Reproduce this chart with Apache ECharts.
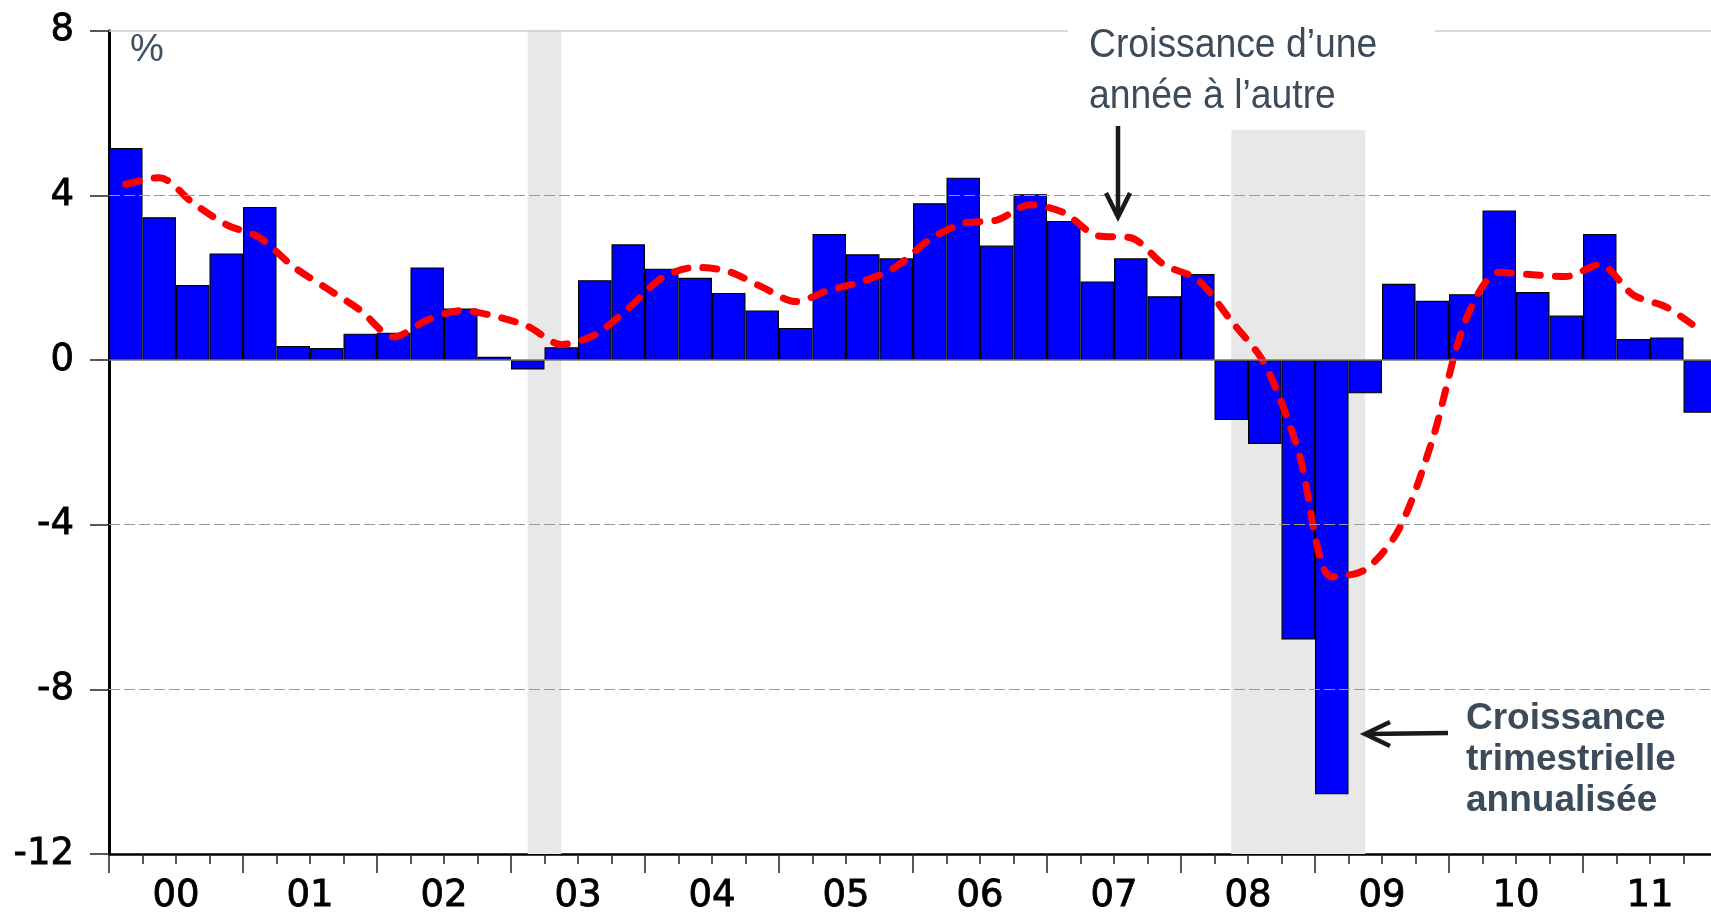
<!DOCTYPE html>
<html>
<head>
<meta charset="utf-8">
<script src="https://cdn.jsdelivr.net/npm/echarts@6/dist/echarts.min.js"></script>
<style>
  html, body { margin: 0; padding: 0; background: #ffffff; }
  #chart { width: 1711px; height: 916px; }
</style>
</head>
<body>
<div id="chart"></div>
<script>
// ---- data ----
const years = ['00','01','02','03','04','05','06','07','08','09','10','11'];
const quarterNames = ['T1','T2','T3','T4'];
// quarterly annualised growth (bars), 2000T1 .. 2011T4
const quarterlyGrowth = [
  5.15, 3.47, 1.82, 2.59,
  3.72, 0.34, 0.29, 0.64,
  0.66, 2.25, 1.25, 0.08,
  -0.23, 0.31, 1.94, 2.81,
  2.22, 2.00, 1.63, 1.20,
  0.78, 3.06, 2.57, 2.47,
  3.81, 4.43, 2.78, 4.03,
  3.38, 1.91, 2.47, 1.55,
  2.09, -1.46, -2.04, -6.79,
  -10.55, -0.81, 1.85, 1.44,
  1.60, 3.63, 1.65, 1.08,
  3.06, 0.51, 0.55, -1.28
];
// year-over-year growth (red dashed line)
const yoyGrowth = [
  4.27, 4.43, 3.82, 3.29,
  2.97, 2.27, 1.74, 1.21,
  0.56, 0.97, 1.20, 1.07,
  0.82, 0.38, 0.61, 1.25,
  1.99, 2.25, 2.15, 1.77,
  1.42, 1.70, 1.91, 2.27,
  2.93, 3.32, 3.40, 3.77,
  3.58, 3.02, 2.97, 2.31,
  1.95, 0.95, -0.10, -2.20,
  -5.27, -5.09, -4.12, -1.95,
  0.97, 2.13, 2.07, 2.03,
  2.32, 1.58, 1.28, 0.72
];
const yTicks = { min: -12, max: 8, interval: 4 };
const dashedGridValues = [4, -4, -8];
const recessions = [['03T1', '03T2'], ['08T2', '09T2']];
const annotationYoY = ['Croissance d\u2019une', 'ann\u00e9e \u00e0 l\u2019autre'];
const annotationQ = ['Croissance', 'trimestrielle', 'annualis\u00e9e'];
const unitLabel = '%';

// categories built from year labels
const categories = [];
years.forEach(y => quarterNames.forEach(q => categories.push(y + q)));

const chart = echarts.init(document.getElementById('chart'), null, { renderer: 'canvas' });

const textColor = '#3b4b5a';
const tickFont = 'DejaVu Sans';

const option = {
  animation: false,
  backgroundColor: '#ffffff',
  grid: { left: 109, top: 30.7, width: 1608, height: 823.3, outerBoundsMode: 'none', containLabel: false },
  xAxis: [
    {
      type: 'category',
      data: categories,
      boundaryGap: true,
      axisLine: { show: true, onZero: false, lineStyle: { color: '#000', width: 2.5 } },
      axisTick: { show: true, interval: 0, length: 10, lineStyle: { color: '#222', width: 1.5 } },
      axisLabel: { show: false },
      splitLine: { show: false }
    },
    {
      type: 'category',
      data: years,
      position: 'bottom',
      boundaryGap: true,
      axisLine: { show: false, onZero: false },
      axisTick: { show: true, interval: 0, length: 19, lineStyle: { color: '#222', width: 1.5 } },
      axisLabel: { show: true, interval: 0, margin: 24, color: '#000', fontSize: 37, fontFamily: tickFont,
        textBorderColor: '#000', textBorderWidth: 0.8 },
      splitLine: { show: false }
    }
  ],
  yAxis: {
    type: 'value',
    min: yTicks.min, max: yTicks.max, interval: yTicks.interval,
    axisLine: { show: true, onZero: false, lineStyle: { color: '#000', width: 3 } },
    axisTick: { show: true, length: 19, lineStyle: { color: '#222', width: 1.5 } },
    axisLabel: { show: true, margin: 35, color: '#000', fontSize: 37, fontFamily: tickFont, padding: [0, 0, 10, 0],
      textBorderColor: '#000', textBorderWidth: 0.8 },
    splitLine: { show: false }
  },
  series: [
    {
      name: 'bands', type: 'line', data: [], z: 1, silent: true,
      markArea: {
        silent: true,
        itemStyle: { color: '#e8e8e8' },
        data: recessions.map(r => [{ xAxis: r[0] }, { xAxis: r[1] }])
      }
    },
    {
      name: 'grid', type: 'line', data: [], z: 2, silent: true,
      markLine: {
        silent: true, symbol: 'none', label: { show: false },
        data: dashedGridValues.map(v => ({ yAxis: v, lineStyle: { color: '#9a9a9a', width: 1.2, type: [11, 4] } }))
          .concat([
            { yAxis: 0, lineStyle: { color: '#7a7a7a', width: 1.5, type: 'solid' } },
            { yAxis: yTicks.max, lineStyle: { color: '#cdcdcd', width: 1.5, type: 'solid' } }
          ])
      }
    },
    {
      name: 'Croissance trimestrielle annualisée', type: 'bar', data: quarterlyGrowth, z: 3,
      barCategoryGap: '0%', barGap: '0%',
      itemStyle: { color: '#0000ff', borderColor: '#000', borderWidth: 1.2 }
    },
    {
      name: 'Croissance d\u2019une année à l\u2019autre', type: 'line', data: yoyGrowth, z: 4,
      smooth: 0.3, symbol: 'none',
      lineStyle: { color: '#ff0000', width: 7, type: [14, 15], cap: 'round', join: 'round' }
    }
  ],
  graphic: [
    { type: 'rect', z: 100, shape: { x: 1068, y: 0, width: 367, height: 130 }, style: { fill: '#ffffff' } },
    { type: 'text', z: 101, x: 1089, y: 46, scaleX: 0.91, style: { x: 0, y: 0, text: annotationYoY[0], font: '41px "Liberation Sans"', fill: textColor, textVerticalAlign: 'middle' } },
    { type: 'text', z: 101, x: 1089, y: 97, scaleX: 0.91, style: { x: 0, y: 0, text: annotationYoY[1], font: '41px "Liberation Sans"', fill: textColor, textVerticalAlign: 'middle' } },
    { type: 'line', z: 101, shape: { x1: 1118, y1: 126, x2: 1118, y2: 214 }, style: { stroke: '#1a1a1a', lineWidth: 4.5 } },
    { type: 'polyline', z: 101, shape: { points: [[1106, 193], [1118, 217], [1130, 193]] }, style: { stroke: '#1a1a1a', lineWidth: 4.5, fill: null, lineJoin: 'miter' } },
    { type: 'text', z: 101, style: { x: 1466, y: 719, text: annotationQ[0], font: 'bold 37px "Liberation Sans"', fill: textColor, textVerticalAlign: 'middle' } },
    { type: 'text', z: 101, style: { x: 1466, y: 760, text: annotationQ[1], font: 'bold 37px "Liberation Sans"', fill: textColor, textVerticalAlign: 'middle' } },
    { type: 'text', z: 101, style: { x: 1466, y: 801, text: annotationQ[2], font: 'bold 37px "Liberation Sans"', fill: textColor, textVerticalAlign: 'middle' } },
    { type: 'line', z: 101, shape: { x1: 1448, y1: 733, x2: 1367, y2: 734 }, style: { stroke: '#1a1a1a', lineWidth: 4.5 } },
    { type: 'polyline', z: 101, shape: { points: [[1390, 722], [1365, 734], [1390, 746]] }, style: { stroke: '#1a1a1a', lineWidth: 4.5, fill: null, lineJoin: 'miter' } },
    { type: 'text', z: 101, style: { x: 130, y: 51, text: unitLabel, font: '38px "Liberation Sans"', fill: '#3f5061', textVerticalAlign: 'middle' } }
  ]
};
chart.setOption(option);
</script>
</body>
</html>
